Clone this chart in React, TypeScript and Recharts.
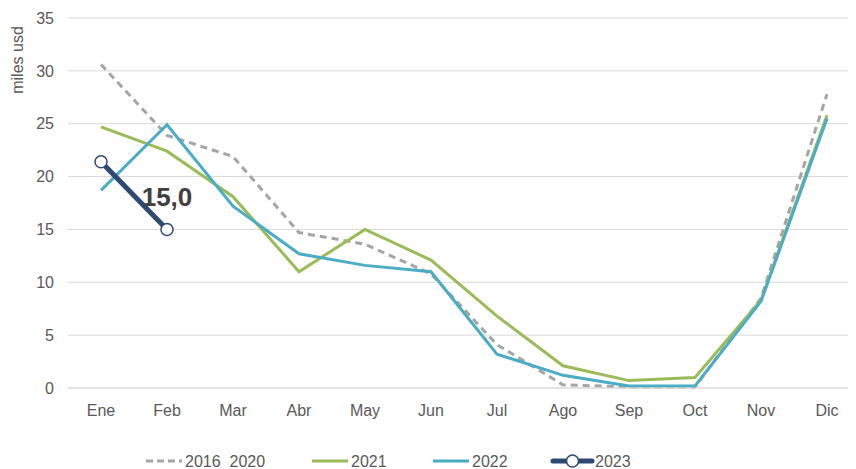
import React from 'react';
import { LineChart, Line, XAxis, YAxis, CartesianGrid } from 'recharts';

const months = ['Ene', 'Feb', 'Mar', 'Abr', 'May', 'Jun', 'Jul', 'Ago', 'Sep', 'Oct', 'Nov', 'Dic'];
const avg1620 = [30.6, 23.9, 21.9, 14.7, 13.6, 10.8, 4.1, 0.3, 0.1, 0.1, 8.5, 27.8];
const y2021 = [24.7, 22.4, 18.1, 11.0, 15.0, 12.1, 6.8, 2.1, 0.7, 1.0, 8.3, 25.8];
const y2022 = [18.7, 24.9, 17.2, 12.7, 11.6, 11.0, 3.2, 1.2, 0.2, 0.2, 8.2, 25.5];
const y2023: (number | null)[] = [21.4, 15.0, null, null, null, null, null, null, null, null, null, null];
const yTicks = [0, 5, 10, 15, 20, 25, 30, 35];

const data = months.map((m, i) => ({
  month: m,
  avg: avg1620[i],
  a2021: y2021[i],
  a2022: y2022[i],
  a2023: y2023[i],
}));

const FONT = '"Liberation Sans", Arial, sans-serif';
const GRAY = '#A5A5A5';
const GREEN = '#9BBB59';
const BLUE = '#4BACC6';
const NAVY = '#2E4A72';

const LastLabel = (props: any) => {
  const { x, y, index, value } = props;
  if (index !== 1 || value == null) return null;
  return (
    <text x={x} y={y - 23} textAnchor="middle" fontFamily={FONT} fontSize={26} fontWeight="bold" fill="#404040">
      {String(value.toFixed(1)).replace('.', ',')}
    </text>
  );
};

const legendItems = [
  { label: '2016\u00a0\u00a02020', color: GRAY, dash: true, x: 146, w: 36 },
  { label: '2021', color: GREEN, x: 312, w: 36 },
  { label: '2022', color: BLUE, x: 433, w: 36 },
  { label: '2023', color: NAVY, x: 553, w: 39, dot: true },
];

export default function App() {
  return (
    <div style={{ position: 'relative', width: 856, height: 469, margin: '-8px 0 0 -8px', background: '#fff', overflow: 'hidden' }}>
      <LineChart width={856} height={469} data={data} margin={{ top: 18, right: 0, bottom: 51, left: 0 }}>
        <CartesianGrid horizontal vertical={false} stroke="#D9D9D9" strokeWidth={1} />
        <XAxis
          dataKey="month"
          axisLine={{ stroke: '#D9D9D9' }}
          tickLine={false}
          tickMargin={11}
          height={30}
          interval={0}
          padding={{ left: 33, right: 29 }}
          tick={{ fontFamily: FONT, fontSize: 16, fill: '#595959' }}
        />
        <YAxis
          domain={[0, 35]}
          ticks={yTicks}
          width={68}
          axisLine={false}
          tickLine={false}
          tickMargin={8}
          tick={{ fontFamily: FONT, fontSize: 16, fill: '#595959' }}
          label={{
            content: () => (
              <text x={23} y={60} transform="rotate(-90 23 60)" textAnchor="middle" fontFamily={FONT} fontSize={16} fill="#595959">
                miles usd
              </text>
            ),
          }}
        />
        <Line dataKey="avg" stroke={GRAY} strokeWidth={3} strokeDasharray="7 5" dot={false} isAnimationActive={false} />
        <Line dataKey="a2021" stroke={GREEN} strokeWidth={3} dot={false} isAnimationActive={false} />
        <Line dataKey="a2022" stroke={BLUE} strokeWidth={3} dot={false} isAnimationActive={false} />
        <Line
          dataKey="a2023"
          stroke={NAVY}
          strokeWidth={5}
          dot={{ r: 6, fill: '#fff', stroke: NAVY, strokeWidth: 1.5 }}
          label={<LastLabel />}
          connectNulls={false}
          isAnimationActive={false}
        />
      </LineChart>
      <svg width={856} height={35} style={{ position: 'absolute', left: 0, top: 434 }}>
        {legendItems.map((it) => (
          <g key={it.label}>
            <line
              x1={it.x}
              x2={it.x + it.w}
              y1={27}
              y2={27}
              stroke={it.color}
              strokeWidth={it.dot ? 5 : 3}
              strokeDasharray={it.dash ? '7 4' : undefined}
              strokeLinecap={it.dot ? 'round' : 'butt'}
            />
            {it.dot && <circle cx={it.x + it.w / 2} cy={27} r={6} fill="#fff" stroke={NAVY} strokeWidth={1.5} />}
            <text x={it.x + it.w + 3} y={32.5} fontFamily={FONT} fontSize={16} fill="#595959">
              {it.label}
            </text>
          </g>
        ))}
      </svg>
    </div>
  );
}
